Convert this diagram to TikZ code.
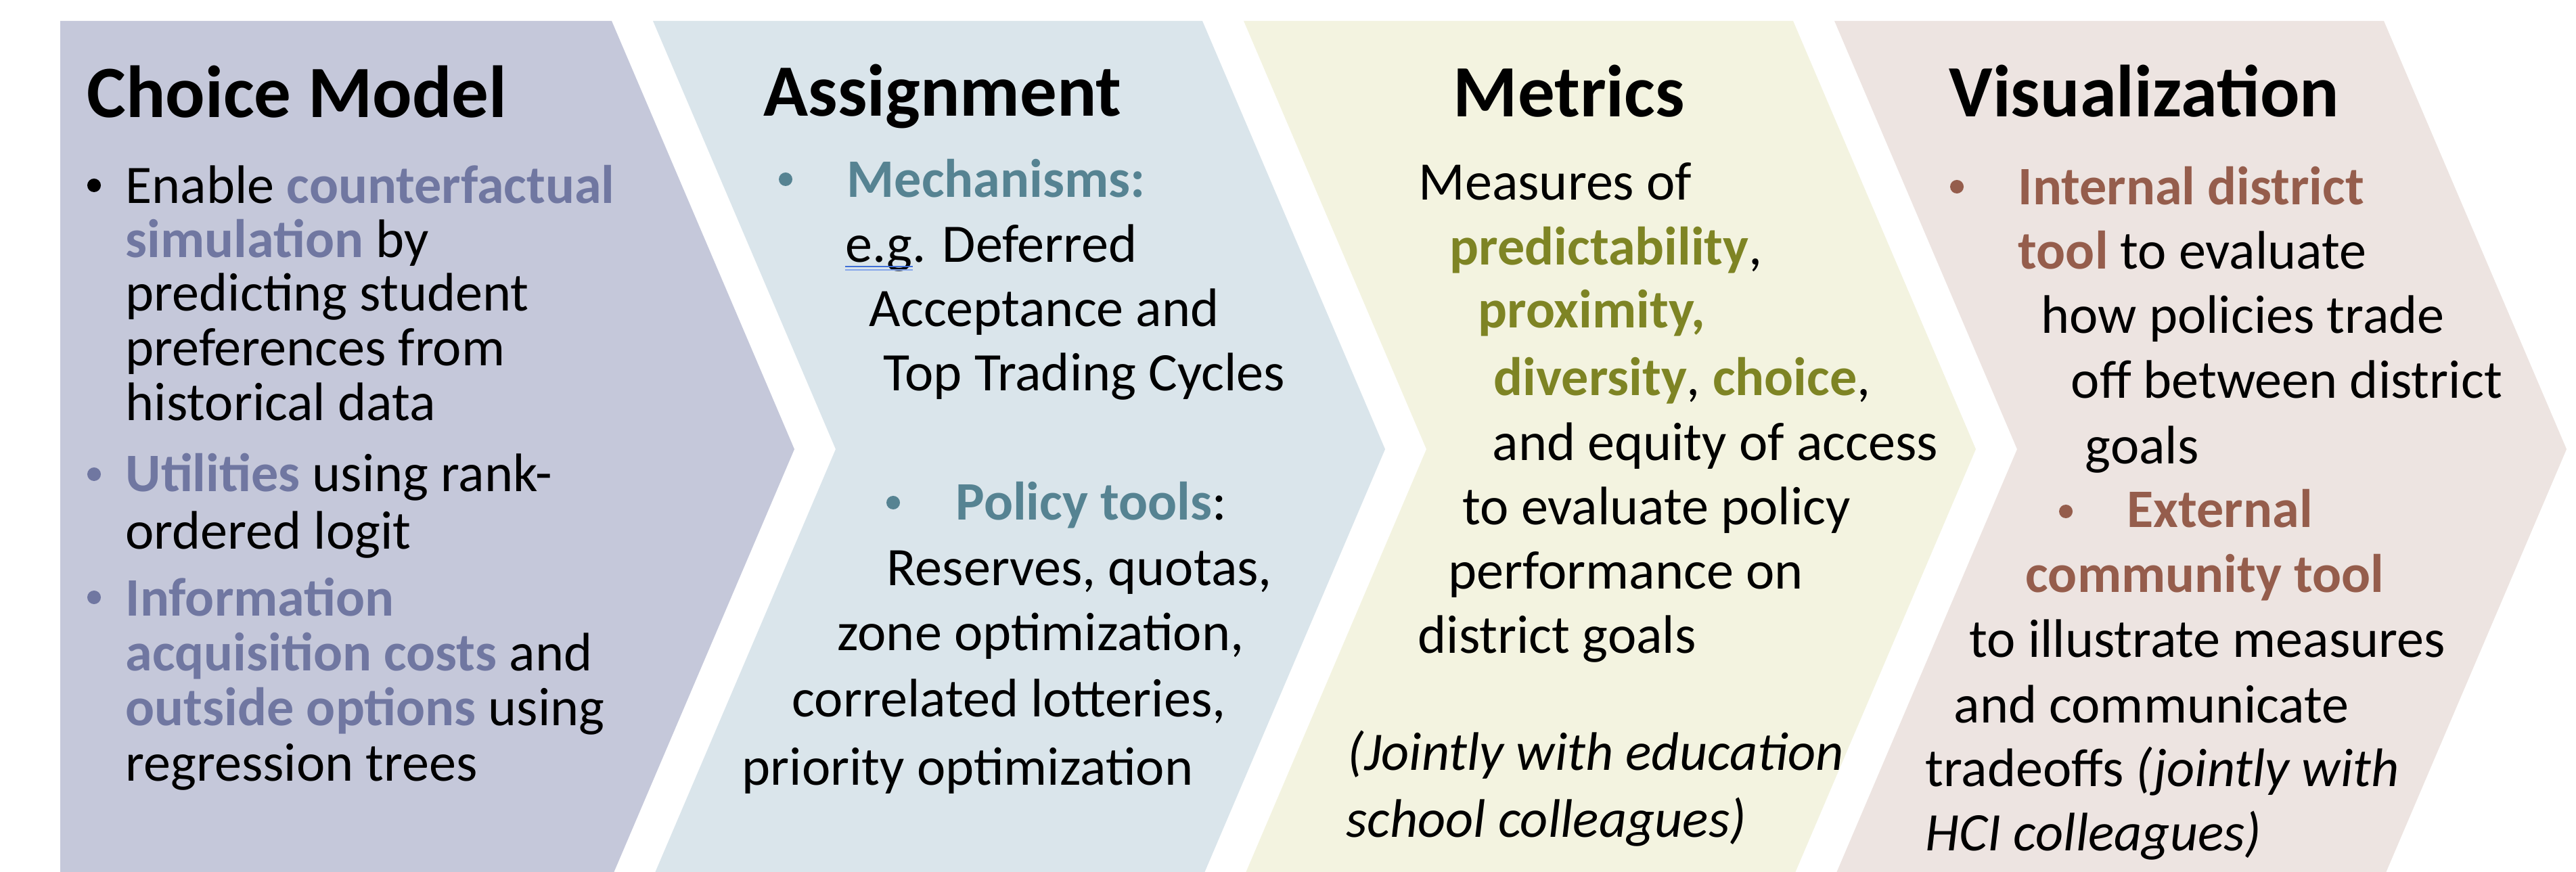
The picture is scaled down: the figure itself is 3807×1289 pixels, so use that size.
\documentclass[tikz,border=0pt]{standalone}
\usepackage{fontspec}
\setmainfont{Carlito}
\usetikzlibrary{calc}

% panel fills
\definecolor{fillP}{HTML}{C5C8DA}
\definecolor{fillA}{HTML}{DAE5EB}
\definecolor{fillM}{HTML}{F3F3E0}
\definecolor{fillV}{HTML}{EDE4E1}
% accent text colours
\definecolor{accP}{HTML}{7077A1}
\definecolor{accA}{HTML}{568392}
\definecolor{accM}{HTML}{7E8424}
\definecolor{accV}{HTML}{955D4C}
\definecolor{spellA}{HTML}{3F6FD6}
\definecolor{spellB}{HTML}{86A6EA}

\newcommand\bodyfont{\fontsize{22.8pt}{26pt}\selectfont}
\newcommand\headfont{\fontsize{31pt}{34pt}\selectfont\bfseries}
\newcommand\hlP[1]{\textbf{\color{accP}#1}}
\newcommand\hlA[1]{\textbf{\color{accA}#1}}
\newcommand\hlM[1]{\textbf{\color{accM}#1}}
\newcommand\hlV[1]{\textbf{\color{accV}#1}}

\tikzset{
  panel/.style={draw=none},
  txt/.style={anchor=base west, inner sep=0pt, font=\bodyfont},
  heading/.style={anchor=base west, inner sep=0pt, font=\headfont},
  dot/.style={circle, inner sep=0pt, minimum size=0.2cm},
}

\begin{document}
\begin{tikzpicture}[x=0.01cm,y=-0.01cm]
\useasboundingbox (0,0) rectangle (3807,1289);

% chevron panels
\begin{scope}
\clip (0,0) rectangle (3807,1289);
\fill[panel, fillP] (89,31) -- (904,31) -- (1174,664) -- (904,1297) -- (89,1297) -- cycle;
\fill[panel, fillA] (965,31) -- (1777,31) -- (2047,664) -- (1777,1297) -- (965,1297) -- (1235,664) -- cycle;
\fill[panel, fillM] (1838,31) -- (2650,31) -- (2920,664) -- (2650,1297) -- (1838,1297) -- (2108,664) -- cycle;
\fill[panel, fillV] (2711,31) -- (3523,31) -- (3793,664) -- (3523,1297) -- (2711,1297) -- (2981,664) -- cycle;
\end{scope}

% Choice Model
\node[heading] (cmT) at (128,174) {Choice Model};
\node[dot, fill=black] (cmB1) at (139,274) {};
\node[txt] (cm1) at (185,301) {Enable \hlP{counterfactual}};
\node[txt] (cm2) at (185,381) {\hlP{simulation} by};
\node[txt] (cm3) at (185,460) {predicting student};
\node[txt] (cm4) at (185,541) {preferences from};
\node[txt] (cm5) at (185,622) {historical data};
\node[dot, fill=accP] (cmB2) at (139,701) {};
\node[txt] (cm6) at (185,727) {\hlP{Utilities} using rank-};
\node[txt] (cm7) at (185,811) {ordered logit};
\node[dot, fill=accP] (cmB3) at (139,883) {};
\node[txt] (cm8) at (185,910) {\hlP{Information}};
\node[txt] (cm9) at (185,991) {\hlP{acquisition costs} and};
\node[txt] (cm10) at (185,1072) {\hlP{outside options} using};
\node[txt] (cm11) at (185,1154) {regression trees};

% Assignment
\node[heading] (asT) at (1128,172) {Assignment};
\node[dot, fill=accA] (asB1) at (1161,265) {};
\node[txt] (as1) at (1251,292) {\hlA{Mechanisms:}};
\node[txt] (as2) at (1249,388) {e.g. Deferred};
\draw[spellA, line width=0.6pt] ([shift={(0,6)}]as2.base west) -- ++(100,0);
\draw[spellB, line width=0.6pt] ([shift={(0,11)}]as2.base west) -- ++(100,0);
\node[txt] (as3) at (1284,483) {Acceptance and};
\node[txt] (as4) at (1305,578) {Top Trading Cycles};
\node[dot, fill=accA] (asB2) at (1320,743) {};
\node[txt] (as5) at (1412,769) {\hlA{Policy tools}:};
\node[txt] (as6) at (1310,866) {Reserves, quotas,};
\node[txt] (as7) at (1237,961) {zone optimization,};
\node[txt] (as8) at (1170,1059) {correlated lotteries,};
\node[txt] (as9) at (1096,1160) {priority optimization};

% Metrics
\node[heading] (meT) at (2147,173) {Metrics};
\node[txt] (me1) at (2096,296) {Measures of};
\node[txt] (me2) at (2142,392) {\hlM{predictability},};
\node[txt] (me3) at (2184,485) {\hlM{proximity,}};
\node[txt] (me4) at (2207,585) {\hlM{diversity}, \hlM{choice},};
\node[txt] (me5) at (2205,681) {and equity of access};
\node[txt] (me6) at (2161,776) {to evaluate policy};
\node[txt] (me7) at (2140,870) {performance on};
\node[txt] (me8) at (2095,965) {district goals};
\node[txt] (me9) at (1991,1138) {\textit{(Jointly with education}};
\node[txt] (me10) at (1989,1237) {\textit{school colleagues)}};

% Visualization
\node[heading] (viT) at (2880,173) {Visualization};
\node[dot, fill=accV] (viB1) at (2892,276) {};
\node[txt] (vi1) at (2982,303) {\hlV{Internal district}};
\node[txt] (vi2) at (2982,398) {\hlV{tool} to evaluate};
\node[txt] (vi3) at (3016,493) {how policies trade};
\node[txt] (vi4) at (3060,589) {off between district};
\node[txt] (vi5) at (3081,686) {goals};
\node[dot, fill=accV] (viB2) at (3053,756) {};
\node[txt] (vi6) at (3143,780) {\hlV{External}};
\node[txt] (vi7) at (2993,876) {\hlV{community tool}};
\node[txt] (vi8) at (2910,971) {to illustrate measures};
\node[txt] (vi9) at (2887,1068) {and communicate};
\node[txt] (vi10) at (2845,1162) {tradeoffs \textit{(jointly with}};
\node[txt] (vi11) at (2845,1257) {\textit{HCI colleagues)}};
\end{tikzpicture}
\end{document}
